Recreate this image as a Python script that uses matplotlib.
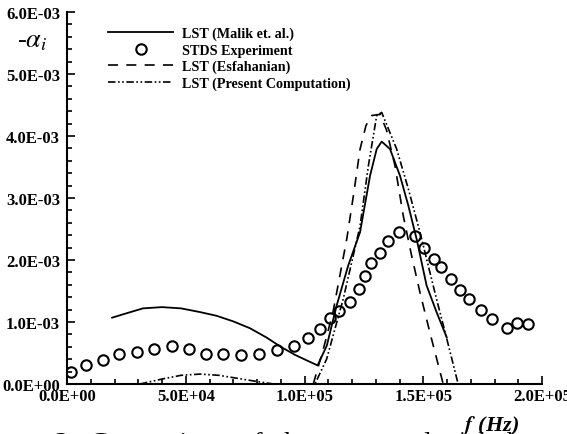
import numpy as np
import matplotlib
matplotlib.use("Agg")
import matplotlib.pyplot as plt
from matplotlib.ticker import MultipleLocator, FormatStrFormatter

plt.rcParams['font.family'] = ['Liberation Serif', 'DejaVu Serif']
plt.rcParams['mathtext.fontset'] = 'stix'

# LST (Malik et. al.)
f_malik = [19000, 25000, 32000, 40000, 48000, 56000, 63000, 70000, 77000, 84000,
           90000, 96000, 101000, 105500, 109400, 113500, 118400, 123400, 127600,
           130400, 132500, 136000, 140200, 143700, 147200, 151400, 155600, 159900]
a_malik = [1.07e-3, 1.14e-3, 1.22e-3, 1.24e-3, 1.22e-3, 1.16e-3, 1.10e-3, 1.01e-3,
           0.90e-3, 0.75e-3, 0.60e-3, 0.47e-3, 0.38e-3, 0.30e-3, 0.62e-3, 1.26e-3,
           1.91e-3, 2.45e-3, 3.36e-3, 3.79e-3, 3.91e-3, 3.79e-3, 3.36e-3, 2.88e-3,
           2.34e-3, 1.59e-3, 1.16e-3, 0.75e-3]

# STDS Experiment
f_exp = [1700, 8000, 15000, 22000, 29300, 36800, 44100, 51500, 58500, 65800, 73100,
         81000, 88300, 95600, 101600, 106500, 110700, 114600, 119200, 123100, 125500,
         127900, 131800, 135300, 139900, 146500, 150300, 154500, 157500, 161500,
         165500, 169400, 174200, 178800, 185100, 189600, 194200]
a_exp = [0.19e-3, 0.30e-3, 0.39e-3, 0.48e-3, 0.51e-3, 0.56e-3, 0.61e-3, 0.56e-3,
         0.49e-3, 0.49e-3, 0.47e-3, 0.49e-3, 0.55e-3, 0.62e-3, 0.75e-3, 0.89e-3,
         1.06e-3, 1.17e-3, 1.33e-3, 1.53e-3, 1.75e-3, 1.95e-3, 2.11e-3, 2.30e-3,
         2.45e-3, 2.39e-3, 2.19e-3, 2.02e-3, 1.88e-3, 1.69e-3, 1.52e-3, 1.37e-3,
         1.20e-3, 1.05e-3, 0.91e-3, 0.99e-3, 0.97e-3]

# LST (Esfahanian)
f_esf = [103700, 107900, 112000, 114900, 117800, 120600, 123400, 125900, 128300,
         131800, 134500, 138100, 141600, 145100, 148600, 152800, 158400]
a_esf = [0.0, 0.56e-3, 1.16e-3, 1.75e-3, 2.34e-3, 3.04e-3, 3.79e-3, 4.17e-3, 4.33e-3,
         4.35e-3, 4.10e-3, 3.52e-3, 2.71e-3, 2.07e-3, 1.48e-3, 0.83e-3, 0.0]

# LST (Present Computation)
f_pc = [30700, 40000, 48000, 56000, 64000, 72000, 80000, 87000, 95000, 104400,
        109300, 116300, 123400, 126900, 130400, 132500, 138800, 143700, 148600,
        155600, 159900, 164700]
a_pc = [0.0, 0.08e-3, 0.14e-3, 0.16e-3, 0.14e-3, 0.09e-3, 0.04e-3, 0.0, -0.1e-3, 0.0,
        0.40e-3, 1.37e-3, 2.55e-3, 3.52e-3, 4.33e-3, 4.38e-3, 3.79e-3, 3.15e-3,
        2.45e-3, 1.37e-3, 0.73e-3, 0.0]

fig = plt.figure(figsize=(5.67, 4.35), dpi=100)
ax = fig.add_axes([67/567, 50/435, 475/567, 372/435])

ax.plot(f_malik, a_malik, color='black', lw=1.3, label='LST (Malik et. al.)')
ax.plot(f_exp, a_exp, 'o', mfc='none', mec='black', mew=1.5, ms=7.5,
        label='STDS Experiment')
ax.plot(f_esf, a_esf, color='black', lw=1.2, dashes=(6, 5), label='LST (Esfahanian)')
ax.plot(f_pc, a_pc, color='black', lw=1.2, dashes=(4.5, 1.5, 1, 1.5, 1, 1.5),
        label='LST (Present Computation)')

ax.set_xlim(0, 2.0e5)
ax.set_ylim(0, 6.0e-3)
ax.xaxis.set_major_locator(MultipleLocator(5e4))
ax.xaxis.set_minor_locator(MultipleLocator(1e4))
ax.yaxis.set_major_locator(MultipleLocator(1e-3))
ax.yaxis.set_minor_locator(MultipleLocator(2e-4))
ax.xaxis.set_major_formatter(FormatStrFormatter('%.1E'))
ax.yaxis.set_major_formatter(FormatStrFormatter('%.1E'))

for s in ['top', 'right']:
    ax.spines[s].set_visible(False)
for s in ['left', 'bottom']:
    ax.spines[s].set_linewidth(1.5)

ax.tick_params(which='both', direction='in', width=1.2)
ax.tick_params(which='major', length=6, labelsize=12)
ax.tick_params(axis='x', which='major', pad=3)
ax.tick_params(axis='y', which='major', pad=5)
ax.tick_params(which='minor', length=3.5)
for lbl in ax.get_xticklabels() + ax.get_yticklabels():
    lbl.set_fontweight('bold')

leg = ax.legend(loc='upper left', bbox_to_anchor=((108-67)/475, (385-28)/372),
                frameon=False, borderaxespad=0, borderpad=0,
                handlelength=4.6, handletextpad=0.65, labelspacing=0.22,
                prop={'weight': 'bold', 'size': 10.2})

fig.text(17/567, 1 - 42/435, r'-$\alpha_i$', fontsize=19, ha='left', va='center')
fig.text(490/567, 1 - 426/435, r'$\boldsymbol{f}$ (Hz)', fontsize=16, ha='center',
         va='center', fontweight='bold', fontstyle='italic')
fig.text(55/567, -0.036, '2.  Comparison  of  the  measured  and  the',
         fontsize=20, ha='left', va='baseline')

fig.savefig('out.png', dpi=100)
